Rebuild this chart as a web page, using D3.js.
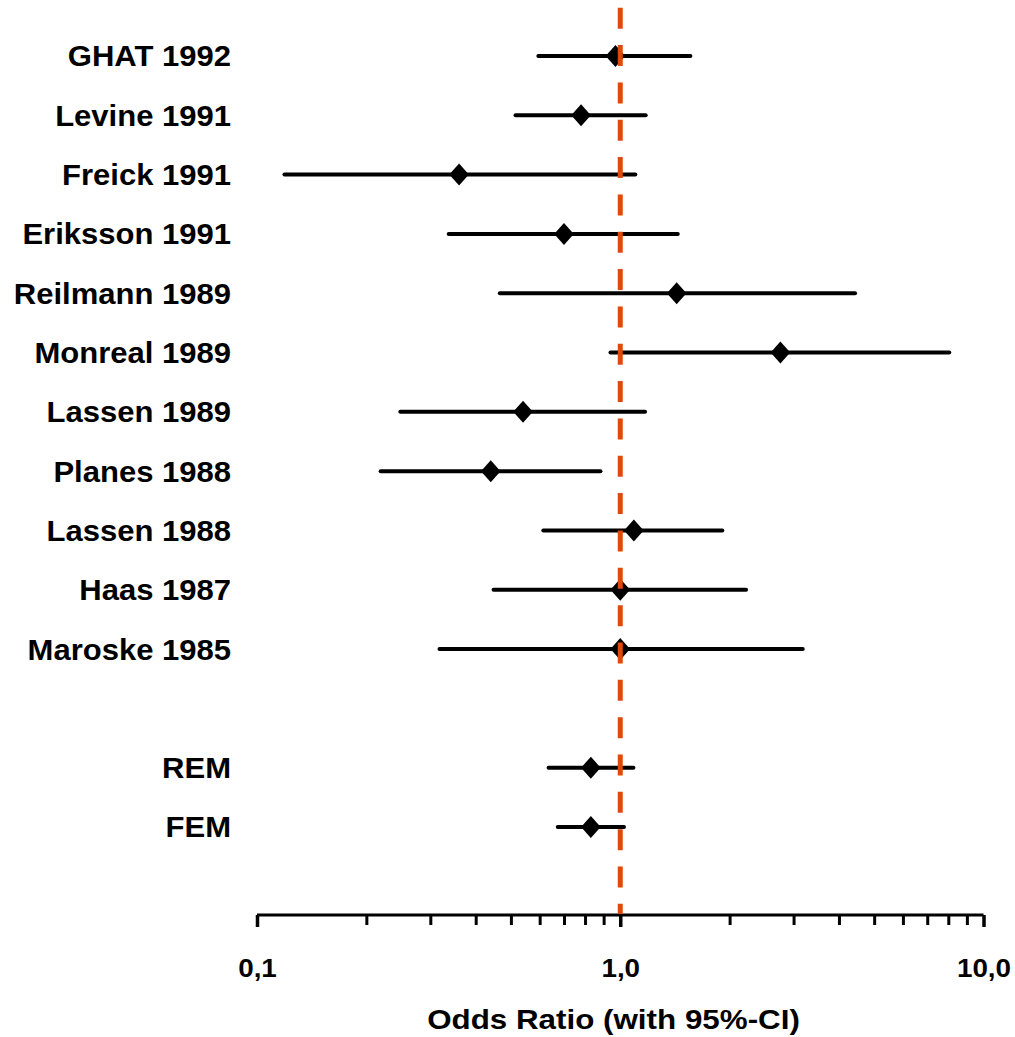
<!DOCTYPE html>
<html>
<head>
<meta charset="utf-8">
<script src="https://cdn.jsdelivr.net/npm/d3@7"></script>
<style>
  html, body { margin: 0; padding: 0; background: #fff; }
  svg { display: block; font-family: "Liberation Sans", Arial, sans-serif; font-weight: bold; }
</style>
</head>
<body>
<div id="chart"></div>
<script>
// study labels, row positions (blank row between trials and pooled estimates)
const studies = ["GHAT 1992", "Levine 1991", "Freick 1991", "Eriksson 1991", "Reilmann 1989",
  "Monreal 1989", "Lassen 1989", "Planes 1988", "Lassen 1988", "Haas 1987", "Maroske 1985",
  "REM", "FEM"];
const rowIndex = [0, 1, 2, 3, 4, 5, 6, 7, 8, 9, 10, 12, 13];

// odds ratios with 95% CI
const oddsRatio = [0.97, 0.78, 0.36, 0.70, 1.43, 2.76, 0.54, 0.44, 1.09, 1.00, 1.00, 0.83, 0.83];
const ciLower   = [0.595, 0.515, 0.119, 0.337, 0.466, 0.94, 0.248, 0.219, 0.614, 0.448, 0.318, 0.635, 0.673];
const ciUpper   = [1.56, 1.175, 1.10, 1.44, 4.43, 8.05, 1.17, 0.882, 1.91, 2.22, 3.18, 1.087, 1.024];

// axis ticks
const majorTicks = [0.1, 1, 10];
const majorTickLabels = ["0,1", "1,0", "10,0"];
const minorTicks = [0.2, 0.3, 0.4, 0.5, 0.6, 0.7, 0.8, 0.9, 2, 3, 4, 5, 6, 7, 8, 9];
const axisTitle = "Odds Ratio (with 95%-CI)";
const refValue = 1;

const W = 1015, H = 1037;
const axisY = 915;

const svg = d3.select("#chart").append("svg")
  .attr("width", W)
  .attr("height", H);

const x = d3.scaleLog()
  .domain([0.1, 10])
  .range([257, 983.5]);

const y = d3.scaleLinear()
  .domain([0, 13])
  .range([56, 827]);

const rows = studies.map((name, i) => ({
  name,
  row: rowIndex[i],
  or: oddsRatio[i],
  lo: ciLower[i],
  hi: ciUpper[i]
}));

// ----- axis -----
const minorAxis = svg.append("g")
  .attr("transform", `translate(0,${axisY})`)
  .call(d3.axisBottom(x).tickValues(minorTicks).tickSize(10).tickSizeOuter(0).tickFormat(""));
minorAxis.select(".domain").remove();
minorAxis.selectAll("line").attr("stroke", "#000").attr("stroke-width", 3);

const majorAxis = svg.append("g")
  .attr("transform", `translate(0,${axisY})`)
  .call(d3.axisBottom(x).tickValues(majorTicks).tickSize(12).tickSizeOuter(0)
    .tickFormat((d, i) => majorTickLabels[i]));
majorAxis.select(".domain")
  .attr("stroke", "#000")
  .attr("stroke-width", 3)
  .attr("d", `M${x(0.1)},0H${x(10)}`);
majorAxis.selectAll("line").attr("stroke", "#000").attr("stroke-width", 3.5);
majorAxis.selectAll("text")
  .attr("fill", "#000")
  .attr("font-size", 26)
  .attr("font-weight", "bold")
  .attr("font-family", "'Liberation Sans', Arial, sans-serif")
  .attr("y", 62)
  .attr("dy", 0)
  .attr("transform", "scale(1.07,1)");

svg.append("text")
  .attr("transform", `translate(613.5,1029) scale(1.12,1)`)
  .attr("text-anchor", "middle")
  .attr("font-size", 28)
  .attr("fill", "#000")
  .text(axisTitle);

// ----- study labels -----
svg.append("g").selectAll("text")
  .data(rows)
  .enter()
  .append("text")
  .attr("transform", d => `translate(231,${y(d.row)}) scale(1.07,1)`)
  .attr("dy", "0.36em")
  .attr("text-anchor", "end")
  .attr("font-size", 29)
  .attr("fill", "#000")
  .text(d => d.name);

// ----- confidence intervals -----
svg.append("g").selectAll("line")
  .data(rows)
  .enter()
  .append("line")
  .attr("x1", d => x(d.lo))
  .attr("x2", d => x(d.hi))
  .attr("y1", d => y(d.row))
  .attr("y2", d => y(d.row))
  .attr("stroke", "#000")
  .attr("stroke-width", 4)
  .attr("stroke-linecap", "round");

// ----- point estimates (diamonds) -----
const hw = 9.8, hh = 11;
svg.append("g").selectAll("path")
  .data(rows)
  .enter()
  .append("path")
  .attr("d", d => {
    const cx = x(d.or), cy = y(d.row);
    return `M${cx},${cy - hh}L${cx + hw},${cy}L${cx},${cy + hh}L${cx - hw},${cy}Z`;
  })
  .attr("fill", "#000");

// ----- reference line at OR = 1 -----
svg.append("line")
  .attr("x1", x(refValue))
  .attr("x2", x(refValue))
  .attr("y1", 7.7)
  .attr("y2", axisY - 1)
  .attr("stroke", "#E0480C")
  .attr("stroke-width", 5)
  .attr("stroke-dasharray", "21,16.34");
</script>
</body>
</html>
